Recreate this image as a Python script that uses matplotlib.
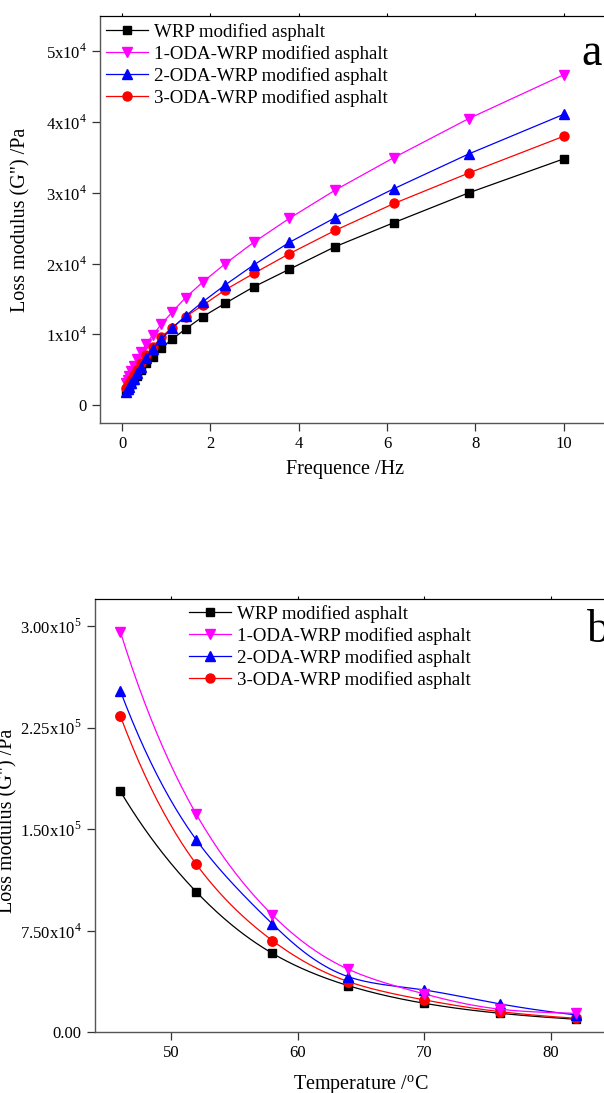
import matplotlib
matplotlib.use("Agg")
import matplotlib.pyplot as plt
import numpy as np

plt.rcParams["font.family"] = ["Liberation Serif", "DejaVu Serif"]
plt.rcParams["mathtext.fontset"] = "custom"
plt.rcParams["mathtext.rm"] = "Liberation Serif"

series_names = ["WRP modified asphalt", "1-ODA-WRP modified asphalt",
                "2-ODA-WRP modified asphalt", "3-ODA-WRP modified asphalt"]
colors = ["black", "#FF00FF", "#0000FF", "#FF0000"]
markers = ["s", "v", "^", "o"]
msizes = [5.8, 7.2, 7.2, 6.5]

# (a) frequency sweep
freq = [0.1, 0.127, 0.162, 0.207, 0.264, 0.336, 0.428, 0.546, 0.695, 0.886,
        1.13, 1.44, 1.83, 2.34, 2.98, 3.79, 4.83, 6.16, 7.85, 10.0]
g2_wrp = [1800, 2100, 2450, 2900, 3500, 4100, 4950, 5900, 6800, 8000,
          9300, 10750, 12500, 14400, 16700, 19200, 22400, 25800, 30000, 34800]
g2_oda1 = [3100, 3550, 4100, 4800, 5550, 6450, 7450, 8600, 9900, 11400,
           13100, 15200, 17400, 20000, 23000, 26400, 30400, 35000, 40500, 46700]
g2_oda2 = [1900, 2200, 2600, 3100, 3700, 4500, 5400, 6600, 7900, 9300,
           10850, 12600, 14600, 17000, 19800, 23000, 26500, 30600, 35500, 41100]
g2_oda3 = [2350, 2700, 3100, 3600, 4200, 5000, 5900, 7000, 8200, 9600,
           10900, 12500, 14100, 16300, 18600, 21400, 24700, 28500, 32800, 38000]

# (b) temperature sweep
temp = [46, 52, 58, 64, 70, 76, 82]
t_wrp = [177900, 103600, 58300, 34400, 21400, 14000, 9600]
t_oda1 = [295700, 160900, 86600, 46500, 28300, 17000, 14000]
t_oda2 = [252000, 142000, 80000, 41000, 31200, 20900, 12800]
t_oda3 = [233500, 124000, 67700, 37400, 23900, 15200, 10300]

yt_a = [0, 10000, 20000, 30000, 40000, 50000]
yl_a = ["0"] + [r"%dx10$^\mathregular{4}$" % k for k in range(1, 6)]
yt_b = [0, 75000, 150000, 225000, 300000]
yl_b = ["0.00", r"7.50x10$^\mathregular{4}$", r"1.50x10$^\mathregular{5}$",
        r"2.25x10$^\mathregular{5}$", r"3.00x10$^\mathregular{5}$"]


def natural_spline(x, y, xs):
    x = np.asarray(x, float)
    y = np.asarray(y, float)
    n = len(x)
    h = np.diff(x)
    A = np.zeros((n, n))
    b = np.zeros(n)
    A[0, 0] = A[-1, -1] = 1
    for i in range(1, n - 1):
        A[i, i - 1] = h[i - 1]
        A[i, i] = 2 * (h[i - 1] + h[i])
        A[i, i + 1] = h[i]
        b[i] = 6 * ((y[i + 1] - y[i]) / h[i] - (y[i] - y[i - 1]) / h[i - 1])
    M = np.linalg.solve(A, b)
    idx = np.clip(np.searchsorted(x, xs) - 1, 0, n - 2)
    x0, x1 = x[idx], x[idx + 1]
    hh = h[idx]
    return (M[idx] * (x1 - xs) ** 3 / (6 * hh) + M[idx + 1] * (xs - x0) ** 3 / (6 * hh)
            + (y[idx] / hh - M[idx] * hh / 6) * (x1 - xs)
            + (y[idx + 1] / hh - M[idx + 1] * hh / 6) * (xs - x0))


def style_axes(ax):
    for s in ["left", "bottom"]:
        ax.spines[s].set_color("#555555")
        ax.spines[s].set_linewidth(1.0)
    ax.spines["top"].set_linewidth(0.8)
    ax.spines["right"].set_visible(False)
    ax.tick_params(axis="both", direction="out", length=6, width=0.9,
                   labelsize=12, color="#333333")
    top = ax.secondary_xaxis("top")
    top.set_xticks(ax.get_xticks())
    top.tick_params(direction="out", length=2.5, width=0.8, labeltop=False)
    top.spines["top"].set_linewidth(0.8)


fig = plt.figure(figsize=(6.04, 10.93), dpi=100)
W, H = 604.0, 1093.0

# top panel
ax1 = fig.add_axes([100 / W, (H - 423) / H, 534 / W, 407 / H])
ya = [g2_wrp, g2_oda1, g2_oda2, g2_oda3]
zo_a = [2, 3, 5, 4]
for i in range(4):
    ax1.plot(freq, ya[i], "-", color=colors[i], marker=markers[i], ms=msizes[i],
             lw=0.9, label=series_names[i], zorder=zo_a[i])
ax1.set_xlim(-0.5, -0.5 + 534 / 44.15)
ax1.set_ylim(-2550, -2550 + 407 / 70.7 * 10000)
ax1.set_xticks([0, 2, 4, 6, 8, 10])
ax1.set_yticks(yt_a)
ax1.set_yticklabels(yl_a)
style_axes(ax1)
ax1.set_xlabel("Frequence /Hz", fontsize=14.5)
ax1.xaxis.set_label_coords((345 - 100) / 534, -(460 - 423) / 407)
ax1.set_ylabel("Loss modulus (G\") /Pa", fontsize=14.5)
ax1.yaxis.set_label_coords(-(100 - 30) / 534, 0.5)
ax1.legend(loc="upper left", bbox_to_anchor=(6 / 534, (423 - 23) / 407),
           frameon=False, fontsize=13.6, handlelength=2.2, handletextpad=0.35,
           labelspacing=0.22, borderpad=0, borderaxespad=0)
fig.text(581 / W, (H - 65) / H, "a", fontsize=33, va="baseline", ha="left")

# bottom panel
ax2 = fig.add_axes([95 / W, (H - 1032.3) / H, 539 / W, 433.3 / H])
yb = [t_wrp, t_oda1, t_oda2, t_oda3]
zo_b = [2, 5, 4, 3]
ts = np.linspace(temp[0], temp[-1], 300)
for i in range(4):
    curve = np.exp(natural_spline(temp, np.log(yb[i]), ts))
    ax2.plot(ts, curve, "-", color=colors[i], lw=0.9, zorder=zo_b[i])
    ax2.plot(temp, yb[i], linestyle="none", marker=markers[i], ms=msizes[i] + 0.3,
             color=colors[i], zorder=zo_b[i])
    ax2.plot([], [], "-", color=colors[i], marker=markers[i], ms=msizes[i],
             lw=0.9, label=series_names[i])
ax2.set_xlim(44, 44 + 539 / 12.67)
ax2.set_ylim(0, 433.3 / 101.6 * 75000)
ax2.set_xticks([50, 60, 70, 80])
ax2.set_yticks(yt_b)
ax2.set_yticklabels(yl_b)
style_axes(ax2)
ax2.set_xlabel("Temperature /$^\\mathregular{o}$C", fontsize=14.5)
ax2.xaxis.set_label_coords((361 - 95) / 539, -(1073 - 1032.3) / 433.3)
ax2.set_ylabel("Loss modulus (G\") /Pa", fontsize=14.5)
ax2.yaxis.set_label_coords(-(95 - 17) / 539, (1032.3 - 821) / 433.3)
ax2.legend(loc="upper left", bbox_to_anchor=((189 - 95) / 539, (1032.3 - 605) / 433.3),
           frameon=False, fontsize=13.6, handlelength=2.2, handletextpad=0.35,
           labelspacing=0.22, borderpad=0, borderaxespad=0)
fig.text(587 / W, (H - 641.7) / H, "b", fontsize=33, va="baseline", ha="left")

fig.savefig("out.png", dpi=100)
